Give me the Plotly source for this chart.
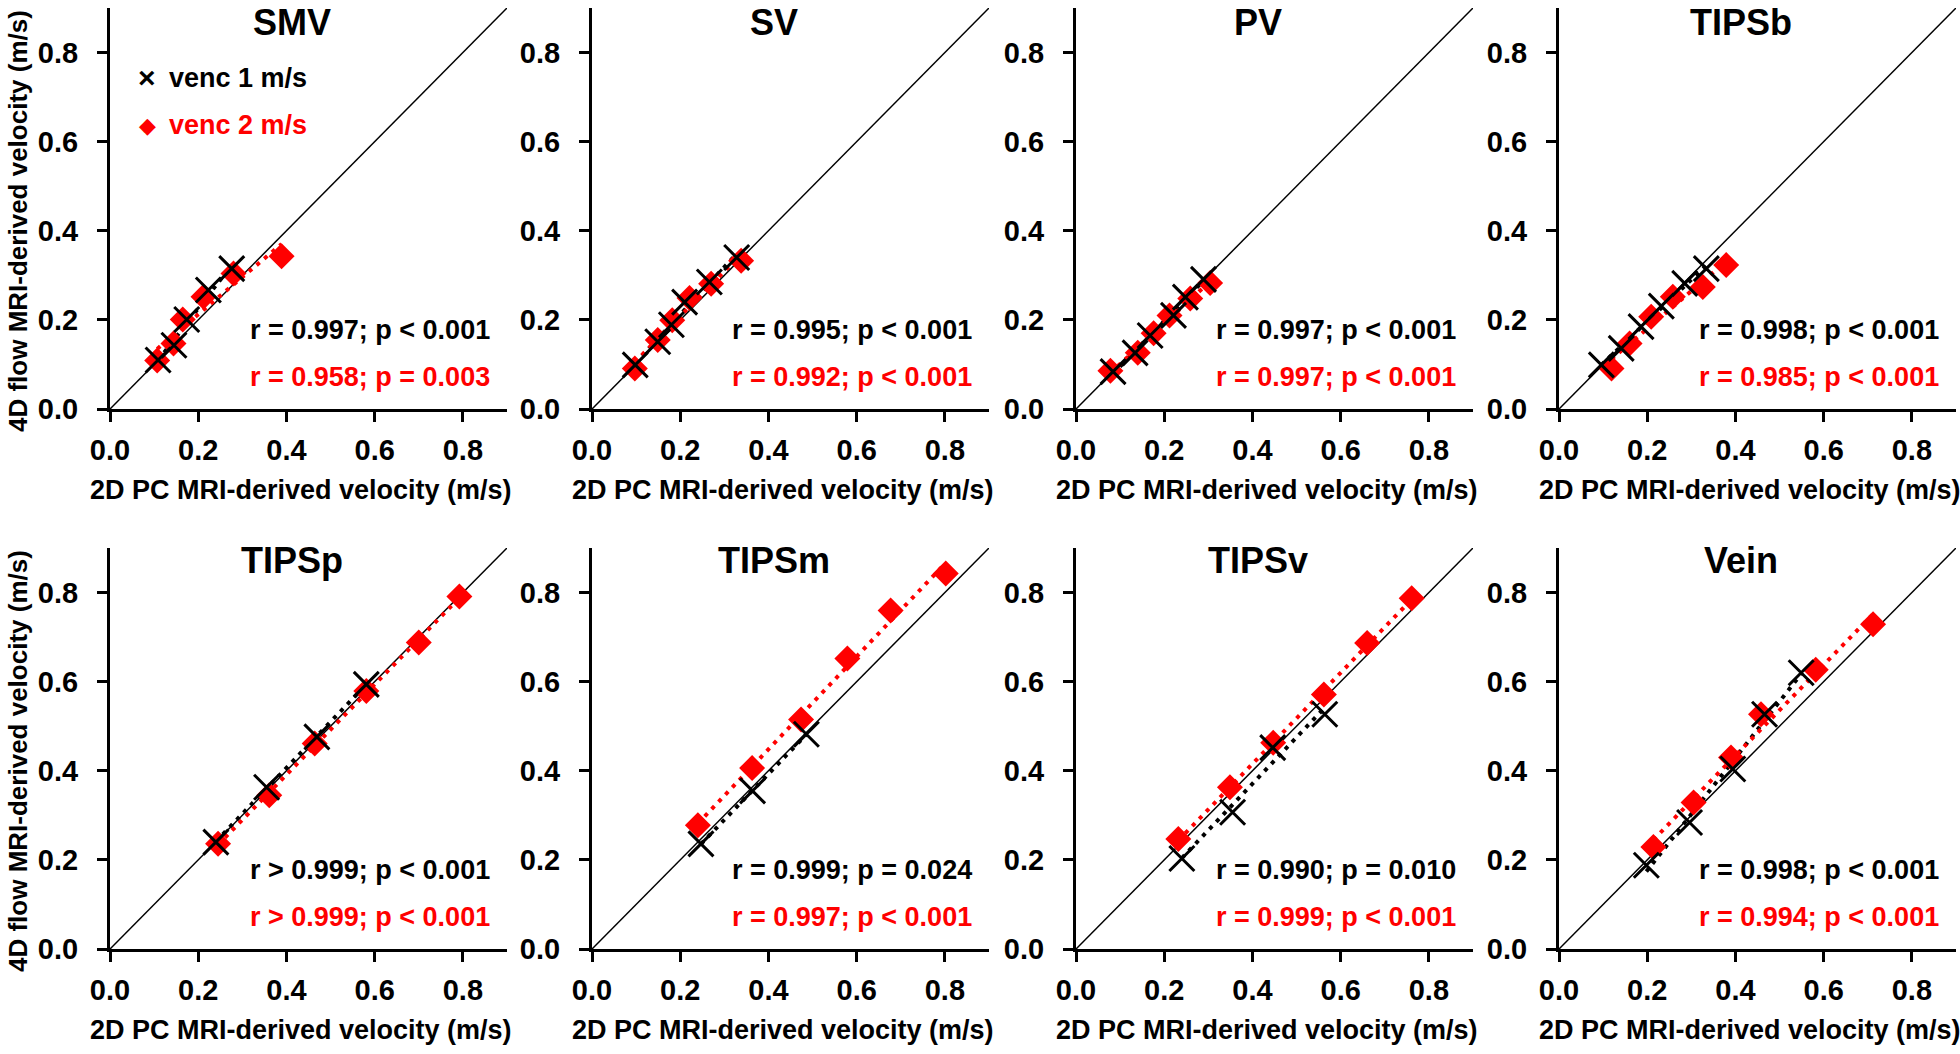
import numpy as np
import plotly.graph_objects as go

# ---------------- data ----------------
panels = ["SMV", "SV", "PV", "TIPSb", "TIPSp", "TIPSm", "TIPSv", "Vein"]

smv_v1_x = [0.109, 0.145, 0.174, 0.223, 0.276]
smv_v1_y = [0.110, 0.143, 0.201, 0.267, 0.315]
smv_v2_x = [0.107, 0.144, 0.165, 0.212, 0.280, 0.389]
smv_v2_y = [0.109, 0.147, 0.201, 0.252, 0.304, 0.343]

sv_v1_x = [0.098, 0.149, 0.180, 0.210, 0.266, 0.328]
sv_v1_y = [0.099, 0.151, 0.189, 0.240, 0.285, 0.340]
sv_v2_x = [0.097, 0.149, 0.182, 0.221, 0.270, 0.338]
sv_v2_y = [0.091, 0.155, 0.199, 0.249, 0.281, 0.333]

pv_v1_x = [0.084, 0.134, 0.168, 0.221, 0.248, 0.289]
pv_v1_y = [0.084, 0.126, 0.165, 0.210, 0.251, 0.291]
pv_v2_x = [0.078, 0.140, 0.176, 0.212, 0.259, 0.304]
pv_v2_y = [0.086, 0.126, 0.170, 0.210, 0.248, 0.283]

tipsb_v1_x = [0.096, 0.141, 0.186, 0.232, 0.285, 0.334]
tipsb_v1_y = [0.099, 0.136, 0.185, 0.231, 0.282, 0.315]
tipsb_v2_x = [0.119, 0.160, 0.209, 0.258, 0.326, 0.379]
tipsb_v2_y = [0.091, 0.147, 0.207, 0.252, 0.274, 0.323]

tipsp_v1_x = [0.240, 0.355, 0.469, 0.581]
tipsp_v1_y = [0.240, 0.363, 0.476, 0.594]
tipsp_v2_x = [0.245, 0.361, 0.464, 0.581, 0.700, 0.792]
tipsp_v2_y = [0.236, 0.345, 0.461, 0.579, 0.688, 0.791]

tipsm_v1_x = [0.247, 0.364, 0.486]
tipsm_v1_y = [0.236, 0.355, 0.482]
tipsm_v2_x = [0.240, 0.363, 0.474, 0.579, 0.677, 0.802]
tipsm_v2_y = [0.278, 0.406, 0.515, 0.652, 0.760, 0.843]

tipsv_v1_x = [0.240, 0.355, 0.446, 0.564]
tipsv_v1_y = [0.203, 0.307, 0.452, 0.527]
tipsv_v2_x = [0.232, 0.349, 0.447, 0.562, 0.660, 0.761]
tipsv_v2_y = [0.247, 0.363, 0.463, 0.571, 0.687, 0.787]

vein_v1_x = [0.198, 0.296, 0.394, 0.466, 0.549]
vein_v1_y = [0.188, 0.284, 0.404, 0.527, 0.620]
vein_v2_x = [0.214, 0.305, 0.390, 0.458, 0.582, 0.712]
vein_v2_y = [0.229, 0.329, 0.430, 0.527, 0.627, 0.729]

stats_v1 = ["r = 0.997; p < 0.001", "r = 0.995; p < 0.001", "r = 0.997; p < 0.001",
            "r = 0.998; p < 0.001", "r > 0.999; p < 0.001", "r = 0.999; p = 0.024",
            "r = 0.990; p = 0.010", "r = 0.998; p < 0.001"]
stats_v2 = ["r = 0.958; p = 0.003", "r = 0.992; p < 0.001", "r = 0.997; p < 0.001",
            "r = 0.985; p < 0.001", "r > 0.999; p < 0.001", "r = 0.997; p < 0.001",
            "r = 0.999; p < 0.001", "r = 0.994; p < 0.001"]

identity = [0.0, 0.9]
tick_vals = [0.0, 0.2, 0.4, 0.6, 0.8]
tick_text = ["0.0", "0.2", "0.4", "0.6", "0.8"]

x_title = "2D PC MRI-derived velocity (m/s)"
y_title = "4D flow MRI-derived velocity (m/s)"

series = [
    (smv_v1_x, smv_v1_y, smv_v2_x, smv_v2_y),
    (sv_v1_x, sv_v1_y, sv_v2_x, sv_v2_y),
    (pv_v1_x, pv_v1_y, pv_v2_x, pv_v2_y),
    (tipsb_v1_x, tipsb_v1_y, tipsb_v2_x, tipsb_v2_y),
    (tipsp_v1_x, tipsp_v1_y, tipsp_v2_x, tipsp_v2_y),
    (tipsm_v1_x, tipsm_v1_y, tipsm_v2_x, tipsm_v2_y),
    (tipsv_v1_x, tipsv_v1_y, tipsv_v2_x, tipsv_v2_y),
    (vein_v1_x, vein_v1_y, vein_v2_x, vein_v2_y),
]

# ---------------- layout helpers ----------------
W, H = 1960, 1054
FONT = "Liberation Sans, Arial, sans-serif"
RED = "#ff0000"

col_left = [110, 592, 1076, 1559]
plot_w = 397
row_bottom = [409, 949]
plot_h = 401


def px_x(p):
    return p / W


def px_y(p):
    return 1 - p / H


fig = go.Figure()
layout = {}
annotations = []

for i, name in enumerate(panels):
    r, c = divmod(i, 4)
    ax = "" if i == 0 else str(i + 1)
    xa, ya = "x" + ax, "y" + ax
    x0 = col_left[c]
    yb = row_bottom[r]
    common = dict(range=[0, 0.9], showgrid=False, zeroline=False, showline=True,
                  linecolor="black", linewidth=3, ticks="outside", ticklen=10,
                  tickwidth=3, tickcolor="black", tickvals=tick_vals, ticktext=tick_text,
                  tickfont=dict(family=FONT, size=29, color="black", weight="bold"),
                  automargin=False, fixedrange=True)
    layout["xaxis" + ax] = dict(common, domain=[px_x(x0), px_x(x0 + plot_w)], anchor=ya,
                                ticklabelstandoff=3)
    layout["yaxis" + ax] = dict(common, domain=[px_y(yb), px_y(yb - plot_h)], anchor=xa,
                                ticklabelstandoff=13)

    v1x, v1y, v2x, v2y = series[i]

    # identity line
    fig.add_trace(go.Scatter(x=identity, y=identity, mode="lines",
                             line=dict(color="black", width=1.5),
                             xaxis=xa, yaxis=ya, showlegend=False, hoverinfo="skip"))
    # regression lines
    for xs, ys, col in ((v1x, v1y, "black"), (v2x, v2y, RED)):
        k, b = np.polyfit(xs, ys, 1)
        lx = np.array([min(xs), max(xs)])
        fig.add_trace(go.Scatter(x=lx, y=k * lx + b, mode="lines",
                                 line=dict(color=col, width=4, dash="4px,6px"),
                                 xaxis=xa, yaxis=ya, showlegend=False, hoverinfo="skip"))
    # markers
    fig.add_trace(go.Scatter(x=v2x, y=v2y, mode="markers",
                             marker=dict(symbol="diamond", size=20, color=RED),
                             xaxis=xa, yaxis=ya, showlegend=False))
    fig.add_trace(go.Scatter(x=v1x, y=v1y, mode="markers",
                             marker=dict(symbol="x-thin", size=25,
                                         line=dict(color="black", width=3)),
                             xaxis=xa, yaxis=ya, showlegend=False))

    # panel title
    annotations.append(dict(text="<b>%s</b>" % name, xref="paper", yref="paper",
                            x=px_x(x0 + 182), y=px_y(22 if r == 0 else 560),
                            xanchor="center", yanchor="middle", showarrow=False,
                            font=dict(family=FONT, size=36, color="black")))
    # stats
    annotations.append(dict(text="<b>%s</b>" % stats_v1[i], xref=xa, yref=ya, x=0.866,
                            y=0.177, xanchor="right", yanchor="middle", showarrow=False,
                            font=dict(family=FONT, size=27, color="black")))
    annotations.append(dict(text="<b>%s</b>" % stats_v2[i], xref=xa, yref=ya, x=0.866,
                            y=0.072, xanchor="right", yanchor="middle", showarrow=False,
                            font=dict(family=FONT, size=27, color=RED)))
    # x title
    annotations.append(dict(text="<b>%s</b>" % x_title, xref="paper", yref="paper",
                            x=px_x(x0 + plot_w / 2 - 8), y=px_y(yb + 81),
                            xanchor="center", yanchor="middle", showarrow=False,
                            font=dict(family=FONT, size=27, color="black")))
    if c == 0:
        annotations.append(dict(text="<b>%s</b>" % y_title, xref="paper", yref="paper",
                                x=px_x(18), y=px_y(yb - 188), textangle=-90,
                                xanchor="center", yanchor="middle", showarrow=False,
                                font=dict(family=FONT, size=26, color="black")))

# legend (panel 1)
annotations.append(dict(text="<b>×</b>", xref="x", yref="y", x=0.084, y=0.744,
                        xanchor="center", yanchor="middle", showarrow=False,
                        font=dict(family=FONT, size=30, color="black")))
annotations.append(dict(text="<b>venc 1 m/s</b>", xref="x", yref="y", x=0.13, y=0.744,
                        xanchor="left", yanchor="middle", showarrow=False,
                        font=dict(family=FONT, size=27, color="black")))
annotations.append(dict(text="◆", xref="x", yref="y", x=0.084, y=0.637,
                        xanchor="center", yanchor="middle", showarrow=False,
                        font=dict(family="DejaVu Sans", size=22, color=RED)))
annotations.append(dict(text="<b>venc 2 m/s</b>", xref="x", yref="y", x=0.13, y=0.637,
                        xanchor="left", yanchor="middle", showarrow=False,
                        font=dict(family=FONT, size=27, color=RED)))

fig.update_layout(width=W, height=H, margin=dict(l=0, r=0, t=0, b=0, autoexpand=False),
                  paper_bgcolor="white", plot_bgcolor="white", showlegend=False,
                  annotations=annotations, **layout)

fig.write_html("out.html", config={"displayModeBar": False},
               post_script="document.body.style.margin='0px';"
                           "document.body.style.overflow='hidden';")
